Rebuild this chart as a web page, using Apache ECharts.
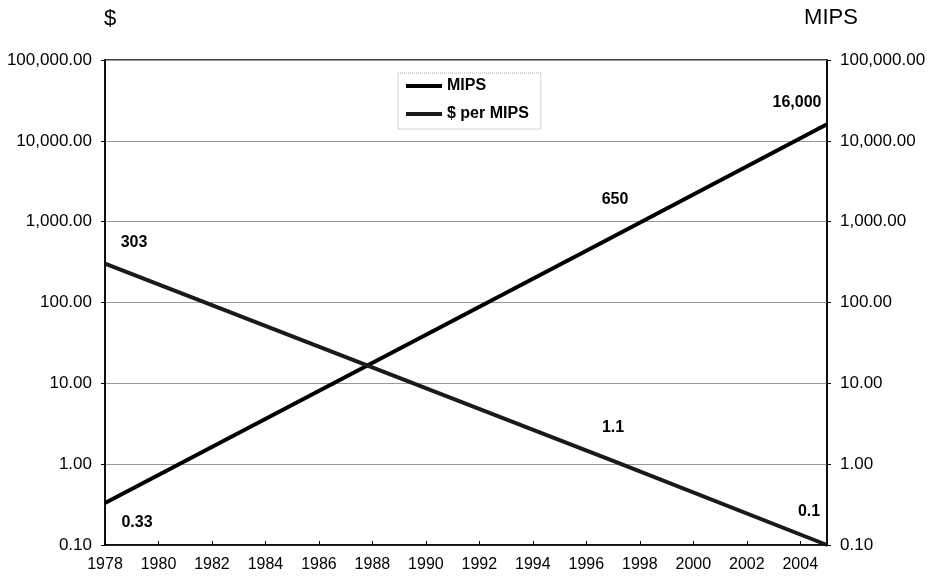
<!DOCTYPE html>
<html>
<head>
<meta charset="utf-8">
<script src="https://cdn.jsdelivr.net/npm/echarts@6/dist/echarts.min.js"></script>
<style>
  html, body { margin: 0; padding: 0; background: #fff; }
  #chart { width: 938px; height: 580px; }
</style>
</head>
<body>
<div id="chart"></div>
<script>
// Years with known values and the two series (log scale)
const years = [1978, 1997, 2005];
const mipsValues = [0.33, 650, 16000];
const dollarPerMipsValues = [303, 1.1, 0.1];
const mipsLabels = ['0.33', '650', '16,000'];
const dollarLabels = ['303', '1.1', '0.1'];
const seriesNames = ['MIPS', '$ per MIPS'];

const FONT = 'Liberation Sans, Arial, sans-serif';

const fmtTick = v => Number(v).toLocaleString('en-US', { minimumFractionDigits: 2, maximumFractionDigits: 2 });

// label offsets per point (relative to the plotted point)
const mipsOffsets = [[32, 20], [2, -37], [-30, -22]];
const dollarOffsets = [[29, -21], [0, -33], [-18, -33]];

function buildData(vals, labels, offsets) {
  return years.map((y, i) => ({
    value: [y, vals[i]],
    label: {
      show: true,
      formatter: labels[i],
      position: 'inside',
      offset: offsets[i]
    }
  }));
}

const yAxisCommon = {
  type: 'log',
  logBase: 10,
  min: 0.1,
  max: 100000,
  axisLine: { show: true, lineStyle: { color: '#000', width: 1.5 } },
  axisTick: { show: true, length: 4, lineStyle: { color: '#000' } },
  axisLabel: { color: '#000', fontSize: 17, fontFamily: FONT, formatter: fmtTick, margin: 13 },
  nameTextStyle: { color: '#000', fontSize: 22, fontFamily: FONT }
};

const labelStyle = { color: '#000', fontSize: 16, fontWeight: 'bold', fontFamily: FONT };

const chart = echarts.init(document.getElementById('chart'));
chart.setOption({
  animation: false,
  backgroundColor: '#fff',
  grid: {
    left: 105, right: 111, top: 60, bottom: 35,
    show: true, borderColor: '#000', borderWidth: 1.5
  },
  legend: {
    data: seriesNames,
    orient: 'vertical',
    left: 398, top: 73,
    itemWidth: 36, itemHeight: 4, itemGap: 12,
    padding: [5, 12, 7, 8],
    borderColor: '#aaa', borderWidth: 1, borderType: 'dotted',
    icon: 'rect',
    textStyle: { color: '#000', fontSize: 16, fontWeight: 'bold', fontFamily: FONT }
  },
  xAxis: {
    type: 'value',
    min: 1978, max: 2005, interval: 2,
    axisLine: { show: true, lineStyle: { color: '#000', width: 1.5 } },
    axisTick: { show: true, length: 4, inside: true, lineStyle: { color: '#000' } },
    splitLine: { show: false },
    axisLabel: { color: '#000', fontSize: 16, fontFamily: FONT, margin: 12, showMaxLabel: false, formatter: v => String(v) }
  },
  yAxis: [
    Object.assign({}, yAxisCommon, {
      name: '$', position: 'left', nameGap: 30,
      nameTextStyle: Object.assign({}, yAxisCommon.nameTextStyle, { align: 'center', padding: [0, 0, 0, 10] }),
      splitLine: { show: true, lineStyle: { color: '#999', width: 1 } }
    }),
    Object.assign({}, yAxisCommon, {
      name: 'MIPS', position: 'right', nameGap: 31,
      nameTextStyle: Object.assign({}, yAxisCommon.nameTextStyle, { align: 'center', padding: [0, 0, 0, 8] }),
      splitLine: { show: false }
    })
  ],
  series: [
    {
      name: seriesNames[0],
      type: 'line',
      yAxisIndex: 0,
      symbol: 'circle',
      symbolSize: 0,
      showSymbol: true,
      lineStyle: { color: '#000', width: 4 },
      itemStyle: { color: '#000' },
      label: labelStyle,
      data: buildData(mipsValues, mipsLabels, mipsOffsets)
    },
    {
      name: seriesNames[1],
      type: 'line',
      yAxisIndex: 0,
      symbol: 'circle',
      symbolSize: 0,
      showSymbol: true,
      lineStyle: { color: '#1a1a1a', width: 4 },
      itemStyle: { color: '#1a1a1a' },
      label: labelStyle,
      data: buildData(dollarPerMipsValues, dollarLabels, dollarOffsets)
    }
  ]
});
</script>
</body>
</html>
